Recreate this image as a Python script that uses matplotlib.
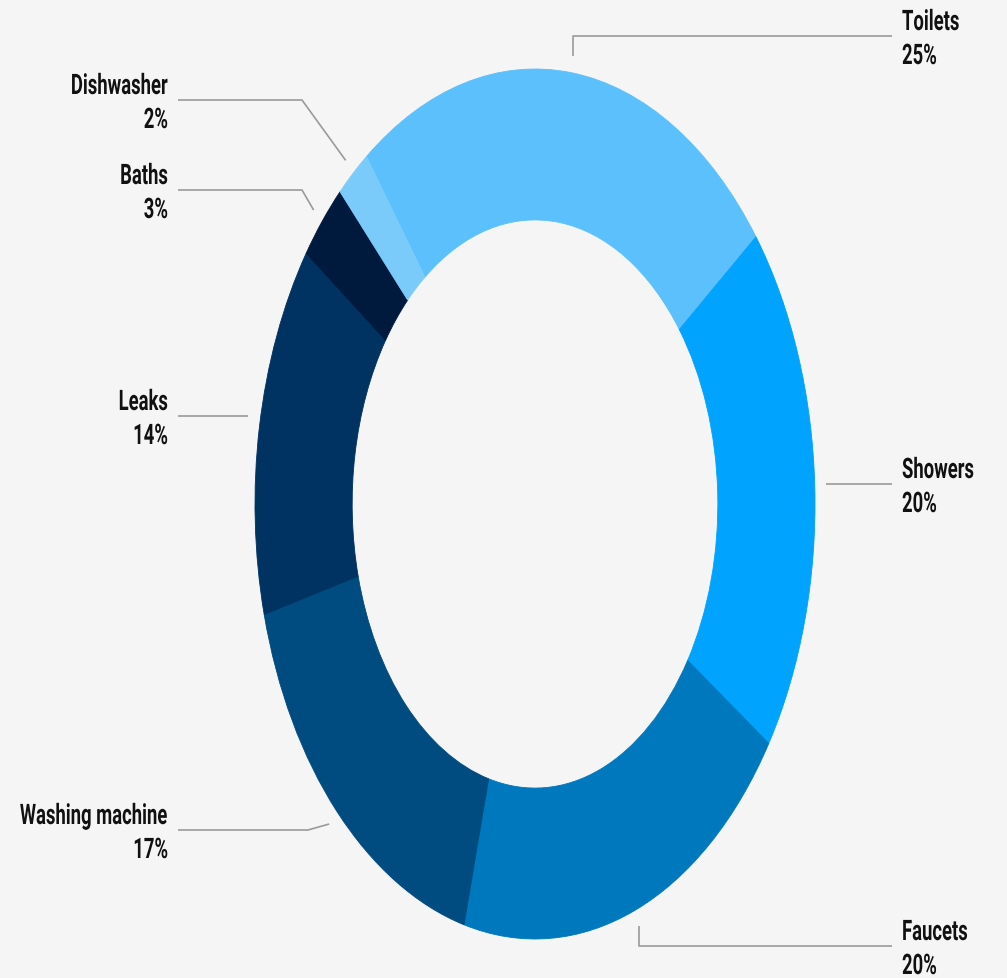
import numpy as np
import matplotlib
matplotlib.use("Agg")
import matplotlib.pyplot as plt
from matplotlib.patheffects import AbstractPathEffect
from matplotlib.transforms import Affine2D

# ---- data ----
categories = ["Toilets", "Showers", "Faucets", "Washing machine", "Leaks", "Baths", "Dishwasher"]
values = [25, 20, 20, 17, 14, 3, 2]
pct_labels = ["25%", "20%", "20%", "17%", "14%", "3%", "2%"]
colors = ["#5bc0fc", "#00a3fe", "#0078bd", "#004b80", "#003262", "#001a3e", "#7bcbfa"]

# ---- layout (pixels) ----
W, H, DPI = 1007, 979, 100
CX, CY = 535, 505          # donut centre in pixels
RX, RY = 280, 435          # outer radii in pixels
START = 127
BG = "#f5f5f5"
LINE_C = "#9a9a9a"
TXT_C = "#111111"

label_layout = {
    "Toilets":         ("R", 902, 37, 892, "vert"),
    "Showers":         ("R", 902, 485, 892, "horiz"),
    "Faucets":         ("R", 902, 947, 892, "vert"),
    "Washing machine": ("L", 168, 831, 178, 308),
    "Leaks":           ("L", 168, 417, 178, "horiz"),
    "Baths":           ("L", 168, 191, 178, 302),
    "Dishwasher":      ("L", 168, 101, 178, 302),
}


class VStretch(AbstractPathEffect):
    """Draw text glyphs stretched vertically about their baseline."""
    def __init__(self, sy):
        super().__init__()
        self.sy = sy

    def draw_path(self, renderer, gc, tpath, affine, rgbFace=None):
        renderer.draw_path(gc, tpath, Affine2D().scale(1.0, self.sy) + affine, rgbFace)


fig = plt.figure(figsize=(W / DPI, H / DPI), dpi=DPI, facecolor=BG)
ax = fig.add_axes([0, 0, 1, 1])
ax.set_facecolor(BG)

wedges, _ = ax.pie(values, colors=colors, startangle=START, counterclock=False,
                   radius=1.0, wedgeprops=dict(width=0.347, linewidth=0.6))
for w, c in zip(wedges, colors):
    w.set_edgecolor(c)

ax.set_aspect("auto")
ax.set_xlim(-CX / RX, (W - CX) / RX)
ax.set_ylim(-(H - CY) / RY, CY / RY)
ax.axis("off")


def px(x, y):
    return (x - CX) / RX, (CY - y) / RY


font = dict(family=["Roboto", "DejaVu Sans"], fontsize=13.3, fontweight="bold", color=TXT_C)
stretch = [VStretch(1.53)]

for w, name, pct in zip(wedges, categories, pct_labels):
    mid = np.deg2rad((w.theta1 + w.theta2) / 2)
    ax_x, ax_y = 1.04 * np.cos(mid), 1.04 * np.sin(mid)
    side, tx, ly, lx0, elbow = label_layout[name]
    x0, y0 = px(lx0, ly)
    if elbow == "vert":
        xs = [x0, ax_x, ax_x]
        ys = [y0, y0, ax_y]
    elif elbow == "horiz":
        xs = [x0, ax_x]
        ys = [y0, y0]
    else:
        ex, ey = px(elbow, ly)
        xs = [x0, ex, ax_x]
        ys = [y0, ey, ax_y]
    ax.plot(xs, ys, color=LINE_C, lw=1.2, solid_capstyle="butt", clip_on=False)
    ha = "left" if side == "R" else "right"
    nx, ny = px(tx, ly - 6)
    ax.text(nx, ny, name, ha=ha, va="baseline", path_effects=stretch, **font)
    qx, qy = px(tx, ly + 28)
    ax.text(qx, qy, pct, ha=ha, va="baseline", path_effects=stretch, **font)

fig.savefig("out.png", dpi=DPI, facecolor=BG)
